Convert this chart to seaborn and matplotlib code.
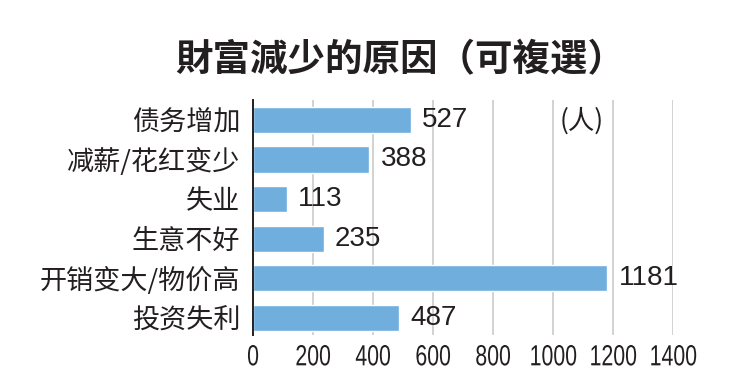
import matplotlib
matplotlib.use("Agg")
import matplotlib.pyplot as plt
import seaborn as sns
import pandas as pd
from matplotlib.patheffects import AbstractPathEffect
from matplotlib.transforms import Affine2D

categories = ["债务增加", "减薪/花红变少", "失业", "生意不好", "开销变大/物价高", "投资失利"]
values = [527, 388, 113, 235, 1181, 487]
xticks = [0, 200, 400, 600, 800, 1000, 1200, 1400]
title = "財富減少的原因（可複選）"
unit = "(人)"

sns.set_theme(style="white")
plt.rcParams['font.family'] = ['Noto Sans CJK SC', 'DejaVu Sans']

num_font = ['Liberation Sans', 'DejaVu Sans']
cjk_font = ['Noto Sans CJK SC', 'DejaVu Sans']


class Condense(AbstractPathEffect):
    """Horizontally condense text glyphs about their own centre."""
    def __init__(self, sx=0.75):
        super().__init__()
        self.sx = sx

    def draw_path(self, renderer, gc, tpath, affine, rgbFace=None):
        bb = tpath.get_extents(affine)
        cx = (bb.x0 + bb.x1) / 2
        aff = affine + Affine2D().translate(-cx, 0).scale(self.sx, 1).translate(cx, 0)
        renderer.draw_path(gc, tpath, aff, rgbFace)


df = pd.DataFrame({"cat": categories, "val": values})

fig = plt.figure(figsize=(7.55, 3.92), dpi=100)
ax = fig.add_axes([253/755, 1-335/392, (673-253)/755, (335-100)/392])

sns.barplot(data=df, x="val", y="cat", orient="h", color="#70AEDE",
            width=0.66, saturation=1, ax=ax, zorder=3)

ax.set_xlim(0, 1400)
ax.set_ylim(len(categories) - 0.57, -0.5)
ax.set_xticks(xticks)
ax.set_xticklabels([str(t) for t in xticks], fontfamily=num_font, fontsize=21, color="#231f20")
for lbl in ax.get_xticklabels():
    lbl.set_path_effects([Condense(0.73)])
ax.set_yticks(range(len(categories)))
ax.set_yticklabels(categories, fontfamily=cjk_font, fontsize=19.5, color="#231f20")
ax.tick_params(axis='x', length=0, pad=6)
ax.tick_params(axis='y', length=0, pad=9)
ax.set_xlabel("")
ax.set_ylabel("")

ax.grid(axis='x', color="#cfcfcf", linewidth=1.3, zorder=0)
ax.grid(axis='y', visible=False)
for s in ["top", "right", "bottom"]:
    ax.spines[s].set_visible(False)
ax.spines["left"].set_color("#231f20")
ax.spines["left"].set_linewidth(1.4)
ax.spines["left"].set_zorder(4)

for c in ax.containers:
    ax.bar_label(c, labels=[str(v) for v in values], padding=8,
                 fontfamily=num_font, fontsize=20, color="#231f20")

ax.text(582/755, 1-121/392, unit, transform=fig.transFigure, ha="center", va="center",
        fontsize=19, color="#231f20", fontfamily=cjk_font)

fig.text(400/755, 1-60/392, title, ha="center", va="center", fontsize=27,
         fontweight="bold", color="#231f20", fontfamily=cjk_font)

fig.savefig("out.png", dpi=100)
